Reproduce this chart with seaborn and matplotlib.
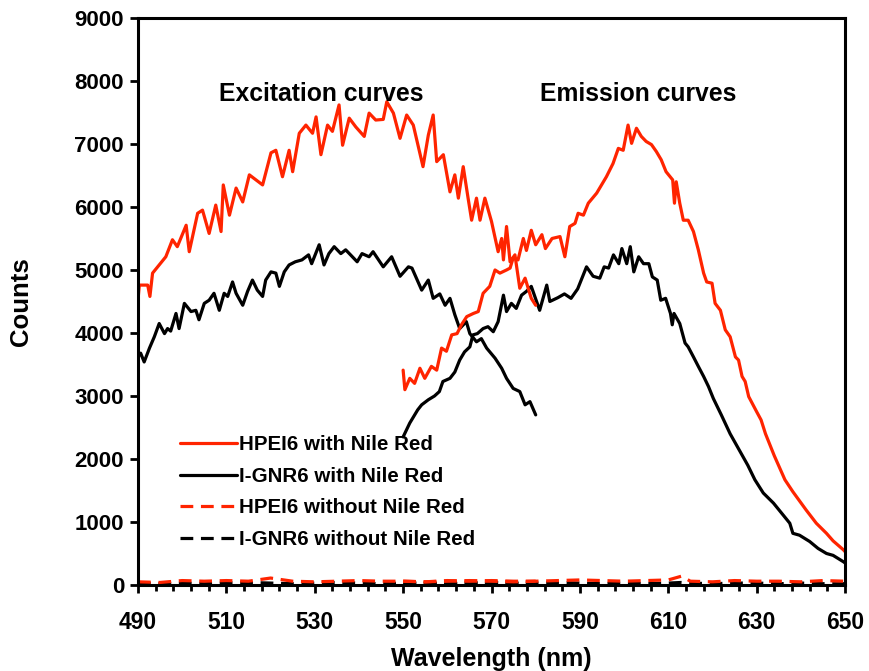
import matplotlib
matplotlib.use("Agg")
import matplotlib.pyplot as plt
import seaborn as sns
import pandas as pd
import numpy as np
from matplotlib.ticker import FixedLocator, MultipleLocator

# ---------------- data ----------------
hpei_ex_x = [490.0, 490.3, 492.2, 492.7, 493.3, 494.8, 496.3, 497.8, 498.9, 500.9, 501.6, 503.5,
             504.6, 506.1, 507.6, 508.8, 509.3, 510.7, 512.2, 513.7, 515.2, 516.7, 518.2, 520.1,
             521.2, 522.7, 524.2, 525.0, 526.5, 528.0, 529.5, 530.3, 531.4, 532.9, 534.0, 535.5,
             536.3, 537.8, 539.3, 541.2, 542.3, 543.8, 545.5, 546.3, 547.8, 549.3, 550.8, 552.3,
             553.0, 554.5, 555.7, 556.8, 557.6, 559.1, 560.6, 561.7, 562.5, 563.6, 564.7, 565.5,
             566.6, 567.4, 568.5, 570.0, 571.5, 572.3, 572.7, 573.4, 574.2, 575.3, 576.4, 577.6,
             579.0, 580.0]
hpei_ex_y = [4520, 4760, 4760, 4580, 4950, 5080, 5210, 5480, 5370, 5710, 5290, 5900,
             5950, 5580, 6030, 5610, 6350, 5870, 6300, 6080, 6510, 6430, 6350, 6860,
             6900, 6480, 6900, 6560, 7170, 7300, 7170, 7430, 6830, 7300, 7200, 7620,
             6980, 7410, 7270, 7120, 7490, 7380, 7390, 7670, 7490, 7090, 7460, 7300,
             7090, 6640, 7140, 7460, 6720, 6830, 6240, 6510, 6140, 6640, 6140, 5790,
             6140, 5790, 6140, 5770, 5290, 5500, 5160, 5690, 5130, 5240, 4710, 4870,
             4550, 4440]

ignr_ex_x = [490.0, 490.6, 491.4, 492.6, 493.7, 494.8, 496.0, 496.7, 497.4, 498.6, 499.3, 500.5,
             502.0, 503.1, 503.8, 505.0, 506.1, 507.2, 508.4, 509.5, 510.3, 511.4, 512.2, 513.7,
             514.8, 515.9, 517.0, 518.2, 518.9, 520.1, 521.2, 522.0, 523.1, 524.2, 525.6, 527.1,
             528.6, 529.3, 531.0, 532.1, 533.2, 534.4, 535.9, 537.0, 538.1, 539.6, 540.7, 542.3,
             543.2, 545.5, 547.4, 549.3, 551.2, 552.0, 554.2, 555.7, 556.8, 558.3, 559.5, 560.6,
             561.7, 562.8, 564.3, 565.1, 566.6, 567.7, 568.9, 570.8, 572.3, 573.4, 574.9, 576.4,
             577.6, 578.7, 580.0]
ignr_ex_y = [3620, 3680, 3540, 3760, 3940, 4150, 3990, 4070, 4030, 4310, 4070, 4470,
             4340, 4360, 4210, 4470, 4520, 4630, 4360, 4630, 4580, 4810, 4630, 4440,
             4660, 4840, 4680, 4580, 4840, 4970, 4950, 4740, 4970, 5080, 5130, 5160,
             5240, 5100, 5400, 5080, 5260, 5370, 5260, 5320, 5240, 5130, 5260, 5210,
             5290, 5050, 5210, 4900, 5050, 5030, 4680, 4840, 4550, 4620, 4440, 4550,
             4290, 4070, 4180, 3990, 3860, 3910, 3760, 3600, 3440, 3280, 3120, 3070,
             2860, 2910, 2700]

hpei_em_x = [550.0, 550.4, 551.5, 552.6, 553.8, 554.9, 556.4, 557.6, 558.7, 559.8, 561.0, 562.2,
             563.2, 564.4, 565.9, 567.0, 568.1, 569.6, 570.8, 571.9, 573.4, 574.2, 574.9, 576.0,
             577.2, 577.9, 579.0, 580.0, 581.4, 582.2, 583.7, 585.5, 586.6, 587.7, 588.9, 589.6,
             590.8, 591.9, 593.8, 596.0, 597.5, 598.7, 599.8, 600.9, 601.7, 602.8, 603.9, 605.0,
             606.2, 607.3, 608.4, 609.5, 611.0, 611.4, 611.8, 612.6, 613.4, 614.5, 615.7, 616.8,
             618.0, 618.7, 619.9, 620.6, 621.8, 622.9, 624.0, 625.2, 625.9, 626.7, 627.4, 628.2,
             630.0, 631.0, 632.0, 634.0, 636.4, 638.2, 641.2, 643.5, 645.8, 647.3, 649.6, 650.0]
hpei_em_y = [3410, 3100, 3280, 3200, 3440, 3280, 3470, 3410, 3760, 3710, 3970, 3990,
             4130, 4260, 4310, 4340, 4630, 4740, 5000, 4950, 5000, 5030, 5190, 5160,
             5500, 5310, 5630, 5400, 5560, 5340, 5500, 5530, 5210, 5690, 5740, 5900,
             5870, 6060, 6220, 6480, 6690, 6930, 6900, 7300, 7010, 7250, 7120, 7040,
             6990, 6880, 6750, 6560, 6430, 6060, 6400, 6060, 5790, 5790, 5610, 5320,
             4950, 4810, 4790, 4470, 4360, 4050, 3940, 3620, 3570, 3310, 3230, 2990,
             2750, 2620, 2400, 2050, 1670, 1480, 1190, 980, 820, 700, 560, 530]

ignr_em_x = [550.0, 551.5, 553.3, 554.2, 555.7, 557.1, 558.2, 559.0, 560.6, 561.7, 562.8, 563.9,
             565.1, 565.8, 566.8, 568.1, 569.2, 570.4, 571.5, 572.7, 573.4, 574.5, 575.6, 576.8,
             577.9, 579.0, 580.2, 580.9, 582.5, 583.2, 585.0, 586.5, 588.0, 589.5, 591.5, 593.0,
             594.5, 595.5, 596.5, 597.6, 598.8, 599.5, 600.6, 601.4, 602.2, 603.3, 604.4, 605.6,
             606.4, 607.5, 608.3, 609.4, 610.5, 610.9, 611.3, 612.6, 613.8, 614.5, 615.7, 616.8,
             618.0, 619.1, 620.2, 622.0, 624.0, 626.0, 628.0, 629.6, 631.5, 633.8, 636.0, 637.5,
             638.2, 639.7, 642.0, 643.9, 645.8, 647.3, 649.6, 650.0]
ignr_em_y = [2350, 2570, 2780, 2860, 2940, 3000, 3070, 3230, 3280, 3380, 3570, 3700,
             3780, 3970, 3990, 4070, 4100, 4020, 4180, 4600, 4340, 4470, 4390, 4600,
             4660, 4740, 4500, 4360, 4760, 4500, 4560, 4620, 4550, 4700, 5050, 4900,
             4870, 5050, 5030, 5240, 5100, 5340, 5100, 5370, 4970, 5210, 5100, 5100,
             4890, 4840, 4520, 4550, 4310, 4130, 4310, 4150, 3840, 3780, 3620, 3470,
             3310, 3150, 2960, 2700, 2400, 2150, 1900, 1670, 1460, 1300, 1110, 980,
             820, 790, 690, 580, 500, 470, 370, 350]

# "without Nile Red" curves (near zero)
blank_ex_x = [490, 495, 500, 505, 510, 515, 520, 525, 530, 535, 540, 545, 550, 555, 560, 565,
              570, 575, 580]
hpei_blank_ex_y = [50, 40, 70, 60, 70, 60, 110, 60, 50, 60, 70, 60, 60, 50, 60, 70, 60, 50, 60]
ignr_blank_ex_y = [30, 20, 30, 20, 30, 40, 30, 20, 30, 40, 30, 20, 30, 30, 20, 30, 40, 30, 20]
blank_em_x = [550, 555, 560, 565, 570, 575, 580, 585, 590, 595, 600, 605, 610, 613, 615, 620,
              625, 630, 635, 640, 645, 650]
hpei_blank_em_y = [60, 50, 70, 60, 70, 60, 60, 70, 80, 70, 60, 70, 80, 140, 60, 50, 70, 60, 60,
                   50, 70, 60]
ignr_blank_em_y = [20, 30, 40, 30, 20, 30, 30, 40, 30, 20, 30, 20, 30, 40, 30, 20, 30, 30, 20,
                   30, 20, 20]

series_names = ["HPEI6 with Nile Red", "I-GNR6 with Nile Red",
                "HPEI6 without Nile Red", "I-GNR6 without Nile Red"]
annotations = ["Excitation curves", "Emission curves"]
x_tick_values = [490, 510, 530, 550, 570, 590, 610, 630, 650]

# ---------------- build long table ----------------
segments = [
    (series_names[0], "ex", hpei_ex_x, hpei_ex_y),
    (series_names[0], "em", hpei_em_x, hpei_em_y),
    (series_names[1], "ex", ignr_ex_x, ignr_ex_y),
    (series_names[1], "em", ignr_em_x, ignr_em_y),
    (series_names[2], "ex", blank_ex_x, hpei_blank_ex_y),
    (series_names[2], "em", blank_em_x, hpei_blank_em_y),
    (series_names[3], "ex", blank_ex_x, ignr_blank_ex_y),
    (series_names[3], "em", blank_em_x, ignr_blank_em_y),
]
rows = []
for name, seg, xs, ys in segments:
    for xv, yv in zip(xs, ys):
        rows.append({"Wavelength (nm)": xv, "Counts": yv, "series": name, "segment": name + seg})
df = pd.DataFrame(rows)

RED = "#FF2400"
styles = {
    series_names[0]: dict(color=RED, ls="-"),
    series_names[1]: dict(color="black", ls="-"),
    series_names[2]: dict(color=RED, ls="--"),
    series_names[3]: dict(color="black", ls="--"),
}

sns.set_theme(style="white")
plt.rcParams["font.family"] = ["Liberation Sans", "DejaVu Sans"]
plt.rcParams["font.weight"] = "bold"
plt.rcParams["text.color"] = "black"
plt.rcParams["axes.labelcolor"] = "black"
plt.rcParams["xtick.color"] = "black"
plt.rcParams["ytick.color"] = "black"

fig = plt.figure(figsize=(8.7, 6.71), dpi=100)
ax = fig.add_axes([0.1586, 0.1282, 0.8127, 0.845])

draw_order = [series_names[3], series_names[2], series_names[1], series_names[0]]
handles = {}
for name in draw_order:
    st = styles[name]
    sub = df[df["series"] == name]
    for seg_name, g in sub.groupby("segment", sort=False):
        sns.lineplot(data=g, x="Wavelength (nm)", y="Counts", ax=ax, color=st["color"],
                     estimator=None, sort=False, lw=2.3, legend=False)
        line = ax.lines[-1]
        if st["ls"] == "--":
            line.set_dashes((4, 2.4))
        handles[name] = line

ax.set_xlim(490, 650)
ax.set_ylim(0, 9000)
ax.xaxis.set_major_locator(FixedLocator(x_tick_values))
ax.xaxis.set_minor_locator(FixedLocator(np.arange(490, 651, 4)))
ax.yaxis.set_major_locator(MultipleLocator(1000))

for sp in ax.spines.values():
    sp.set_visible(True)
    sp.set_color("black")
    sp.set_linewidth(2.2)

ax.tick_params(axis="y", which="major", direction="out", length=6, width=2,
               color="black", labelcolor="black", labelsize=16, pad=4)
ax.tick_params(axis="x", which="major", direction="out", length=6, width=2,
               color="black", labelcolor="black", labelsize=16.5, pad=13)
ax.tick_params(axis="x", which="minor", direction="out", length=4.5, width=2, color="black")
ax.tick_params(axis="x", which="both", bottom=True, top=False)
ax.tick_params(axis="y", which="both", left=True, right=False)
for lab in ax.get_xticklabels() + ax.get_yticklabels():
    lab.set_fontweight("bold")

ax.set_xlabel("Wavelength (nm)", fontsize=18, fontweight="bold", labelpad=9, color="black")
ax.set_ylabel("Counts", fontsize=18.5, fontweight="bold", labelpad=30, color="black")

ax.text(531.4, 7790, annotations[0], fontsize=17.8, fontweight="bold", ha="center",
        va="center", color="black")
ax.text(603.1, 7790, annotations[1], fontsize=17.8, fontweight="bold", ha="center",
        va="center", color="black")

leg = ax.legend([handles[n] for n in series_names], series_names, loc="upper left",
                bbox_to_anchor=(0.048, 0.279), frameon=False, fontsize=14.8,
                handlelength=2.75, handletextpad=0.12, labelspacing=0.62, borderaxespad=0)
for t in leg.get_texts():
    t.set_fontweight("bold")
    t.set_color("black")

fig.savefig("out.png", dpi=100)
